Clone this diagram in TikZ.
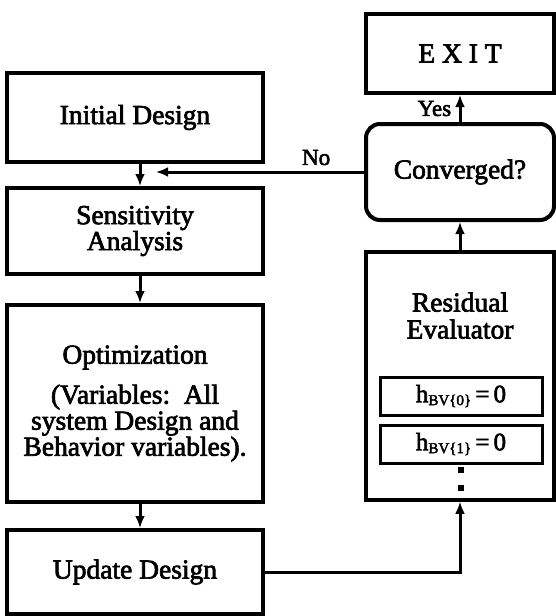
\documentclass[tikz,border=0pt]{standalone}
\usepackage{fontspec}
\setmainfont{Liberation Serif}[FakeBold=2.5]
\usetikzlibrary{positioning,arrows.meta}

\newcommand{\hsub}[1]{h\raisebox{-0.25ex}{\fontsize{15}{15}\selectfont BV\{#1\}}\,=\,0}

\begin{document}
\begin{tikzpicture}[x=1pt, y=-1pt, >={Latex[length=12pt,width=10pt]},
    box/.style={draw, line width=4pt, minimum width=256pt, inner sep=0pt,
        align=center, font=\fontsize{27.5}{26}\selectfont},
    rbox/.style={box, minimum width=188pt},
    hbox/.style={draw, line width=3pt, minimum width=162pt, minimum height=38pt,
        inner sep=0pt, font=\fontsize{25}{25}\selectfont},
    lbl/.style={font=\fontsize{23}{23}\selectfont},
    flow/.style={->, line width=3pt}]

    \useasboundingbox (0,0) rectangle (555,616);

    % left column
    \node[box, minimum height=89pt] (init) at (135,117.5) {Initial Design};
    \node[box, minimum height=86pt] (sens) at (135,231) {Sensitivity\\Analysis};
    \node[box, minimum height=197pt] (opt) at (135,403.5)
        {Optimization\\[14pt](Variables:\ \ All\\system Design and\\Behavior variables).};
    \node[box, minimum height=84pt] (upd) at (135,572) {Update Design};

    % right column
    \node[rbox, minimum height=79pt] (exit) at (460,53.5) {E X I T};
    \node[rbox, minimum height=96pt, rounded corners=14pt] (conv) at (460,172) {Converged?};
    \node[rbox, line width=3.5pt, minimum height=248pt] (res) at (460,376) {};
    \node[font=\fontsize{27.5}{27}\selectfont, align=center, inner sep=0pt]
        (restxt) [below=42pt of res.north] {Residual\\Evaluator};
    \node[hbox] (h0) at (461,396) {\hsub{0}};
    \node[hbox] (h1) at (461,444) {\hsub{1}};
    \node[fill, minimum size=6pt, inner sep=0pt] (dot1) at (461,470) {};
    \node[fill, minimum size=6pt, inner sep=0pt] (dot2) at (461,488) {};

    \coordinate (noend) at (156,172);

    % connectors
    \draw[flow] ([xshift=5pt]init.south) -- ([xshift=5pt]sens.north);
    \draw[flow] ([xshift=5pt]sens.south) -- ([xshift=5pt]opt.north);
    \draw[flow] ([xshift=5pt]opt.south) -- ([xshift=5pt]upd.north);
    \draw[flow] (conv.west) -- (noend) node[lbl, pos=0.23, above=2pt] {No};
    \draw[flow] (conv.north) -- (exit.south) node[lbl, midway, left=4pt] {Yes};
    \draw[flow] (res.north) -- (conv.south);
    \draw[flow] (upd.east) -| (res.south);

\end{tikzpicture}
\end{document}
